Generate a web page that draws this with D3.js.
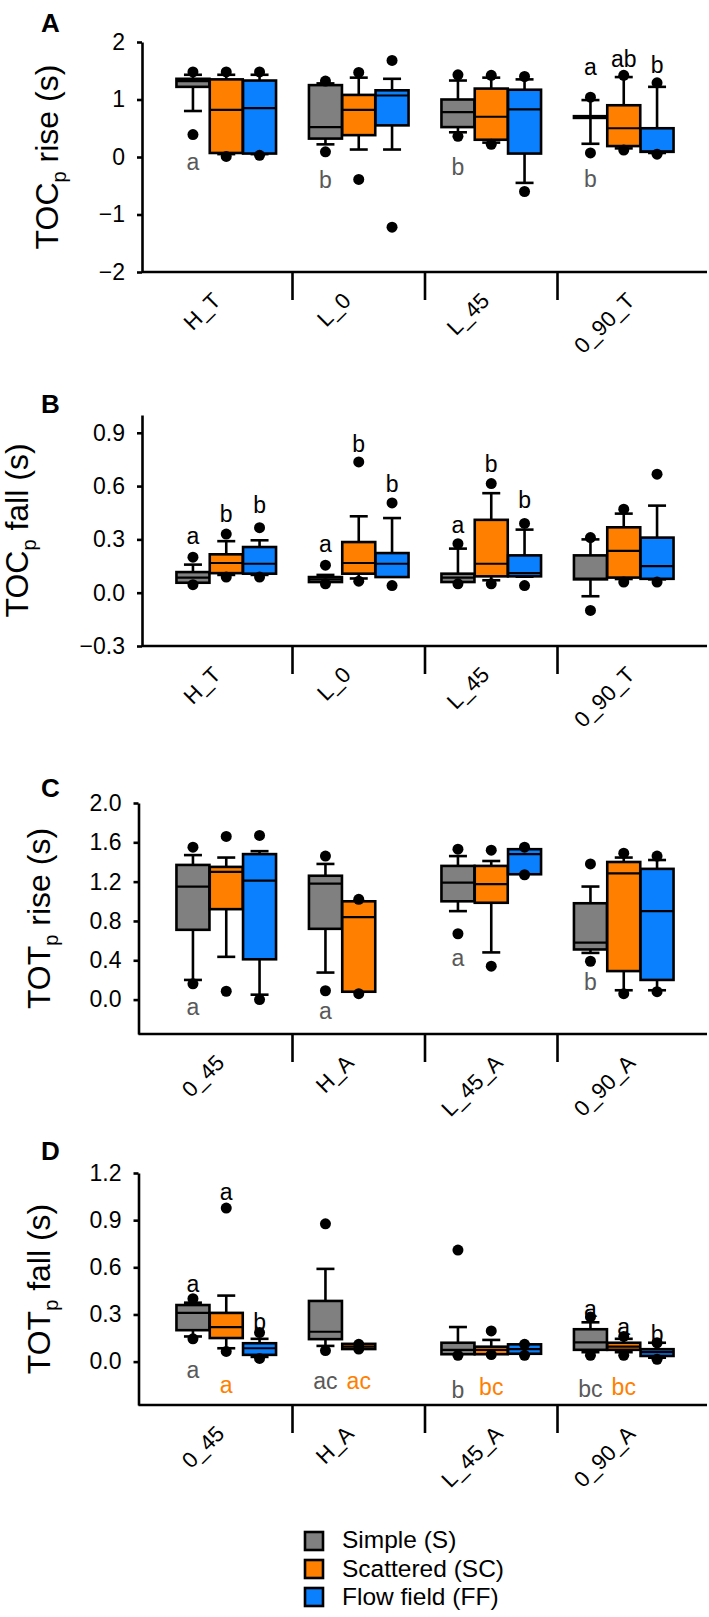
<!DOCTYPE html>
<html><head><meta charset="utf-8">
<script src="https://cdn.jsdelivr.net/npm/d3@7"></script>
<style>body{margin:0;background:#fff} svg{display:block} text{font-family:"Liberation Sans",Arial,sans-serif}</style>
</head><body><svg id="c" width="709" height="1617"></svg>
<script>
const seriesNames = ["Simple (S)", "Scattered (SC)", "Flow field (FF)"];
const seriesColors = ["#808080", "#ff7f00", "#0a80ff"];
const catsTOC = ["H_T", "L_0", "L_45", "0_90_T"];
const catsTOT = ["0_45", "H_A", "L_45_A", "0_90_A"];

// box stats per category: [whiskerLow, q1, median, q3, whiskerHigh, outlierLow, outlierHigh]
const tocRiseSimple = [[0.80,1.22,1.32,1.36,1.43,0.39,1.48],[0.22,0.32,0.52,1.25,1.28,0.09,1.32],[0.43,0.52,0.78,1.00,1.33,0.36,1.43],[0.23,0.68,0.70,0.71,0.99,0.07,1.04]];
const tocRiseScattered = [[0.05,0.07,0.82,1.35,1.43,0.01,1.48],[0.13,0.38,0.82,1.08,1.38,-0.39,1.47],[0.25,0.30,0.70,1.19,1.38,0.22,1.42],[0.15,0.19,0.50,0.90,1.39,0.12,1.42]];
const tocRiseFlow = [[0.05,0.06,0.85,1.33,1.43,0.03,1.48],[0.13,0.55,1.07,1.16,1.36,-1.22,1.68],[-0.45,0.06,0.83,1.17,1.35,-0.60,1.40],[0.07,0.09,0.10,0.50,1.22,0.05,1.29]];

const tocFallSimple = [[0.056,0.056,0.085,0.116,0.158,0.045,0.20],[0.06,0.06,0.075,0.088,0.10,0.05,0.155],[0.06,0.06,0.085,0.107,0.248,0.05,0.276],[-0.02,0.075,0.08,0.21,0.30,-0.10,0.31]];
const tocFallScattered = [[0.10,0.11,0.167,0.216,0.29,0.088,0.33],[0.08,0.107,0.167,0.285,0.43,0.065,0.736],[0.07,0.092,0.163,0.41,0.56,0.05,0.614],[0.077,0.085,0.235,0.368,0.445,0.06,0.47]];
const tocFallFlow = [[0.10,0.107,0.163,0.257,0.295,0.088,0.366],[0.088,0.088,0.163,0.223,0.42,0.04,0.505],[0.09,0.092,0.11,0.21,0.355,0.04,0.39],[0.075,0.078,0.15,0.31,0.49,0.06,0.667]];

const totRiseSimple = [[0.20,0.71,1.15,1.37,1.47,0.16,1.55],[0.275,0.72,1.18,1.26,1.38,0.09,1.46],[0.90,1.00,1.19,1.36,1.46,0.67,1.53],[0.475,0.51,0.58,0.98,1.15,0.39,1.38]];
const totRiseScattered = [[0.435,0.92,1.30,1.35,1.445,0.085,1.66],[0.08,0.08,0.84,1.00,1.00,0.06,1.02],[0.48,0.985,1.175,1.36,1.41,0.34,1.52],[0.095,0.29,1.285,1.40,1.445,0.06,1.49]];
const totRiseFlow = [[0.05,0.41,1.21,1.48,1.51,0.00,1.67],null,[1.275,1.275,1.48,1.53,1.53,1.27,1.55],[0.095,0.20,0.90,1.33,1.42,0.08,1.46]];

const totFallSimple = [[0.16,0.20,0.31,0.36,0.375,0.145,0.40],[0.10,0.143,0.19,0.386,0.59,0.07,0.877],[0.047,0.047,0.075,0.12,0.22,0.04,0.71],[0.06,0.075,0.123,0.206,0.25,0.04,0.284]];
const totFallScattered = [[0.085,0.15,0.22,0.31,0.42,0.065,0.977],[0.08,0.08,0.095,0.113,0.113,0.08,0.11],[0.047,0.047,0.075,0.095,0.138,0.045,0.195],[0.06,0.075,0.095,0.12,0.145,0.04,0.16]];
const totFallFlow = [[0.03,0.043,0.085,0.117,0.145,0.02,0.185],null,[0.05,0.05,0.08,0.11,0.11,0.04,0.11],[0.025,0.036,0.06,0.079,0.12,0.015,0.12]];

// letters: [categoryIndex, seriesIndex, value, text, colour]
const tocRiseLetters = [[0,0,-0.23,"a","g"],[1,0,-0.54,"b","g"],[2,0,-0.32,"b","g"],[3,0,-0.53,"b","g"],[3,0,1.42,"a","k"],[3,1,1.56,"ab","k"],[3,2,1.46,"b","k"]];
const tocFallLetters = [[0,0,0.272,"a","k"],[0,1,0.40,"b","k"],[0,2,0.447,"b","k"],[1,0,0.227,"a","k"],[1,1,0.79,"b","k"],[1,2,0.565,"b","k"],[2,0,0.334,"a","k"],[2,1,0.678,"b","k"],[2,2,0.475,"b","k"]];
const totRiseLetters = [[0,0,-0.16,"a","g"],[1,0,-0.20,"a","g"],[2,0,0.34,"a","g"],[3,0,0.095,"b","g"]];
const totFallLetters = [[0,0,0.446,"a","k"],[0,1,1.03,"a","k"],[0,2,0.20,"b","k"],[0,0,-0.104,"a","g"],[0,1,-0.20,"a","o"],[1,0,-0.174,"ac","g"],[1,1,-0.174,"ac","o"],[2,0,-0.23,"b","g"],[2,1,-0.21,"bc","o"],[3,0,0.287,"a","k"],[3,1,0.17,"a","k"],[3,2,0.127,"b","k"],[3,0,-0.223,"bc","g"],[3,1,-0.212,"bc","o"]];

const tocRiseTicks = [-2,-1,0,1,2];
const tocFallTicks = [-0.3,0,0.3,0.6,0.9];
const totRiseTicks = [0,0.4,0.8,1.2,1.6,2.0];
const totFallTicks = [0,0.3,0.6,0.9,1.2];

const letterColors = {k:"#000", g:"#595959", o:"#ff7f00"};

const panels = [
  {label:"A", t1:"TOC", t2:" rise (s)", cats:catsTOC, data:[tocRiseSimple,tocRiseScattered,tocRiseFlow], letters:tocRiseLetters, domain:[-2,2], ticks:tocRiseTicks, fmt:d3.format("d"), top:42, bottom:272, left:142, labelY:32, titleX:58},
  {label:"B", t1:"TOC", t2:" fall (s)", cats:catsTOC, data:[tocFallSimple,tocFallScattered,tocFallFlow], letters:tocFallLetters, domain:[-0.3,1.0], ticks:tocFallTicks, fmt:d3.format(".1f"), top:415, bottom:646, left:142, labelY:413, titleX:28},
  {label:"C", t1:"TOT", t2:" rise (s)", cats:catsTOT, data:[totRiseSimple,totRiseScattered,totRiseFlow], letters:totRiseLetters, domain:[-0.35,2.0], ticks:totRiseTicks, fmt:d3.format(".1f"), top:803, bottom:1034, left:138.5, labelY:797, titleX:50},
  {label:"D", t1:"TOT", t2:" fall (s)", cats:catsTOT, data:[totFallSimple,totFallScattered,totFallFlow], letters:totFallLetters, domain:[-0.276,1.2], ticks:totFallTicks, fmt:d3.format(".1f"), top:1173, bottom:1405, left:138.5, labelY:1160, titleX:50}
];

const svg = d3.select("#c");
const SW = 2.6, BOXW = 33, SLOT = 33.3, CAPW = 18, R = 5.5;

panels.forEach(p => {
  const g = svg.append("g");
  const x = d3.scaleBand().domain(p.cats).range([160, 690]);
  const y = d3.scaleLinear().domain(p.domain).range([p.bottom, p.top]);
  const cx = (ci, si) => x(p.cats[ci]) + x.bandwidth()/2 + (si-1)*SLOT;

  g.append("text").attr("x", 41).attr("y", p.labelY).attr("font-size", 26).attr("font-weight", "bold").text(p.label);

  const ya = g.append("g").attr("transform", `translate(${p.left},0)`)
    .call(d3.axisLeft(y).tickValues(p.ticks).tickFormat(p.fmt).tickSize(5).tickSizeOuter(0).tickPadding(12));
  ya.select(".domain").attr("stroke-width", SW);
  ya.selectAll(".tick line").attr("stroke-width", SW);
  ya.selectAll(".tick text").attr("font-size", 23).attr("font-family", "Liberation Sans, Arial, sans-serif").attr("fill", "#000");

  const tt = g.append("text").attr("transform", `translate(${p.titleX},${(p.top+p.bottom)/2}) rotate(-90)`)
    .attr("text-anchor", "middle").attr("font-size", 32);
  tt.append("tspan").text(p.t1);
  tt.append("tspan").attr("font-size", 20).attr("dy", 8).text("p");
  tt.append("tspan").attr("dy", -8).text(p.t2);

  g.append("line").attr("x1", p.left).attr("x2", 707).attr("y1", p.bottom).attr("y2", p.bottom)
    .attr("stroke", "#000").attr("stroke-width", SW);
  p.cats.slice(1).forEach(c => {
    g.append("line").attr("x1", x(c)).attr("x2", x(c)).attr("y1", p.bottom).attr("y2", p.bottom + 28)
      .attr("stroke", "#000").attr("stroke-width", SW);
  });
  p.cats.forEach(c => {
    const t = g.append("text").attr("text-anchor", "end").attr("font-size", 22).text(c);
    const w = t.node().getComputedTextLength();
    const dx = -4 + 0.5 * (w - 42);
    t.attr("transform", `translate(${x(c)+x.bandwidth()/2+dx},${p.bottom+30}) rotate(-45)`);
  });

  p.data.forEach((series, si) => {
    series.forEach((s, ci) => {
      if (!s) return;
      const [lo, q1, med, q3, hi] = s;
      const c = cx(ci, si);
      const bg = g.append("g");
      bg.append("line").attr("x1", c).attr("x2", c).attr("y1", y(lo)).attr("y2", y(q1)).attr("stroke", "#000").attr("stroke-width", SW);
      bg.append("line").attr("x1", c).attr("x2", c).attr("y1", y(q3)).attr("y2", y(hi)).attr("stroke", "#000").attr("stroke-width", SW);
      if (lo < q1) bg.append("line").attr("x1", c-CAPW/2).attr("x2", c+CAPW/2).attr("y1", y(lo)).attr("y2", y(lo)).attr("stroke", "#000").attr("stroke-width", SW);
      if (hi > q3) bg.append("line").attr("x1", c-CAPW/2).attr("x2", c+CAPW/2).attr("y1", y(hi)).attr("y2", y(hi)).attr("stroke", "#000").attr("stroke-width", SW);
      bg.append("rect").attr("x", c-BOXW/2).attr("width", BOXW).attr("y", y(q3)).attr("height", Math.max(0.5, y(q1)-y(q3)))
        .attr("fill", seriesColors[si]).attr("stroke", "#000").attr("stroke-width", SW);
      bg.append("line").attr("x1", c-BOXW/2).attr("x2", c+BOXW/2).attr("y1", y(med)).attr("y2", y(med)).attr("stroke", "#000").attr("stroke-width", 2.2);
    });
  });
  p.data.forEach((series, si) => {
    series.forEach((s, ci) => {
      if (!s) return;
      [s[5], s[6]].forEach(v => {
        g.append("circle").attr("cx", cx(ci, si)).attr("cy", y(v)).attr("r", R).attr("fill", "#000");
      });
    });
  });
  p.letters.forEach(([ci, si, v, t, col]) => {
    g.append("text").attr("x", cx(ci, si)).attr("y", y(v)).attr("text-anchor", "middle")
      .attr("font-size", 23).attr("fill", letterColors[col]).text(t);
  });
});

const lg = svg.append("g");
seriesNames.forEach((n, i) => {
  lg.append("rect").attr("x", 305).attr("y", 1532 + i*28).attr("width", 18).attr("height", 18)
    .attr("fill", seriesColors[i]).attr("stroke", "#000").attr("stroke-width", 2.6);
  lg.append("text").attr("x", 342).attr("y", 1548 + i*28.5).attr("font-size", 24.5).text(n);
});
</script></body></html>
